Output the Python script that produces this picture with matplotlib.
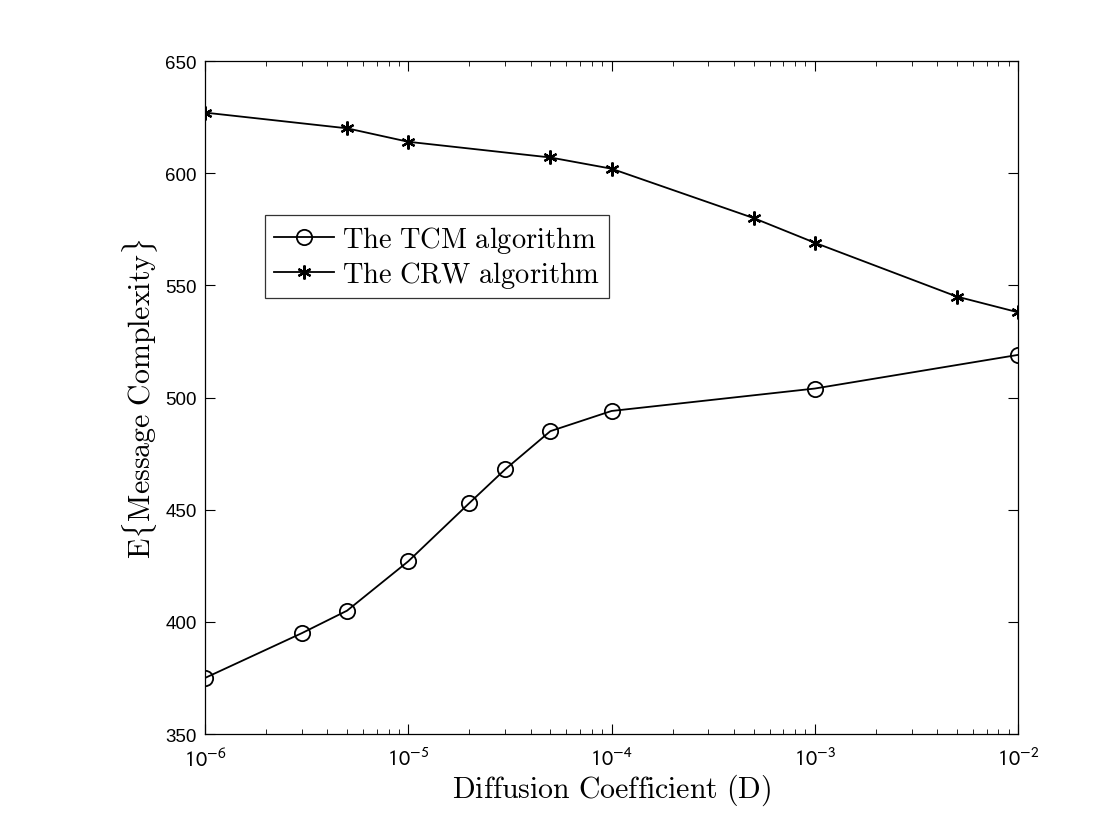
import matplotlib
matplotlib.use('Agg')
import matplotlib.pyplot as plt
from matplotlib.ticker import FuncFormatter, LogLocator, NullFormatter
import numpy as np

plt.rcParams['mathtext.fontset'] = 'stixsans'
plt.rcParams['font.family'] = ['Liberation Sans', 'DejaVu Sans']

# data
d_tcm = [1e-6, 3e-6, 5e-6, 1e-5, 2e-5, 3e-5, 5e-5, 1e-4, 1e-3, 1e-2]
msg_tcm = [375, 395, 405, 427, 453, 468, 485, 494, 504, 519]

d_crw = [1e-6, 5e-6, 1e-5, 5e-5, 1e-4, 5e-4, 1e-3, 5e-3, 1e-2]
msg_crw = [627, 620, 614, 607, 602, 580, 569, 545, 538]

fig = plt.figure(figsize=(11.15, 8.28), dpi=100)
ax = fig.add_axes([0.1839, 0.1123, 0.7291, 0.8128])

ax.plot(d_tcm, msg_tcm, color='black', lw=1.3, marker='o', ms=11,
        mfc='none', mew=1.3, label=r'$\mathrm{The\ TCM\ algorithm}$')
ax.plot(d_crw, msg_crw, color='black', lw=1.3, marker=(6, 2, 0), ms=10,
        mew=1.6, label=r'$\mathrm{The\ CRW\ algorithm}$')

ax.set_xscale('log')
ax.set_xlim(1e-6, 1e-2)
ax.set_ylim(350, 650)
ax.set_yticks(np.arange(350, 651, 50))
ax.xaxis.set_major_locator(LogLocator(base=10, numticks=10))
ax.xaxis.set_minor_locator(LogLocator(base=10, subs=np.arange(2, 10), numticks=50))
ax.xaxis.set_minor_formatter(NullFormatter())
ax.xaxis.set_major_formatter(FuncFormatter(
    lambda v, p: r'$10^{%d}$' % int(round(np.log10(v)))))

ax.tick_params(which='both', direction='in', top=True, right=True)
ax.tick_params(which='major', length=7, width=0.8, labelsize=13.5, pad=6)
ax.tick_params(which='minor', length=3.5, width=0.6)
ax.tick_params(axis='x', which='major', labelsize=16, pad=10)
for s in ax.spines.values():
    s.set_linewidth(0.9)

ax.set_xlabel(r'$\mathrm{Diffusion\ Coefficient\ (D)}$', fontsize=21.5,
              labelpad=0, math_fontfamily='cm')
ax.set_ylabel(r'$\mathrm{E\{Message\ Complexity\}}$', fontsize=21.5,
              labelpad=4, math_fontfamily='cm')

leg = ax.legend(loc='upper left', bbox_to_anchor=(0.074, 0.771), borderaxespad=0,
                fontsize=20.5, frameon=True, fancybox=False, edgecolor='black',
                handlelength=2.1, labelspacing=0.15, borderpad=0.3,
                handletextpad=0.3)
leg.get_frame().set_linewidth(0.9)
for t in leg.get_texts():
    t.set_math_fontfamily('cm')

fig.savefig('out.png', dpi=100)
